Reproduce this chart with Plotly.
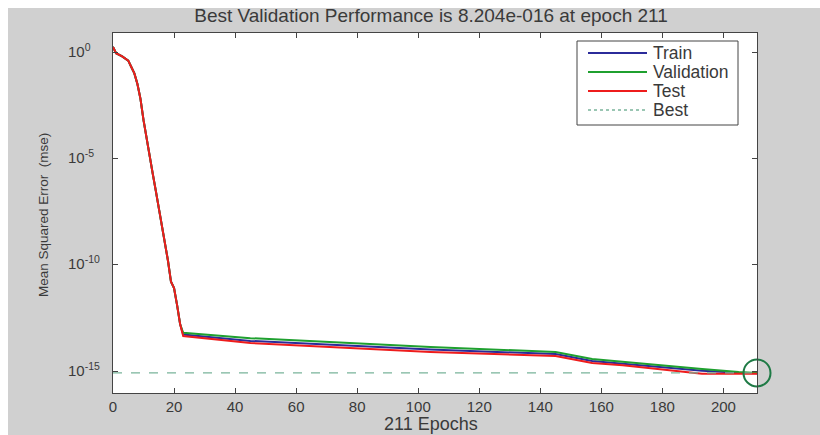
import math
import plotly.graph_objects as go

# ---- data ----
steep_epochs = [0, 1, 3, 5, 6, 7, 8, 9, 10, 11, 12, 13, 14, 15, 16, 17, 18, 19, 20, 21, 22]
steep_log = [0.25, -0.05, -0.2, -0.4, -0.7, -1.0, -1.5, -2.2, -3.2, -4.1, -4.9, -5.7, -6.5,
             -7.3, -8.1, -8.9, -9.8, -10.8, -11.1, -11.9, -12.8]

flat_epochs = [23, 45, 104, 145, 157, 167, 193, 205, 211]
train_log_flat = [-13.28, -13.58, -13.98, -14.20, -14.52, -14.64, -14.98, -15.08, -15.10]
val_log_flat = [-13.20, -13.45, -13.87, -14.10, -14.43, -14.57, -14.90, -15.04, -15.086]
test_log_flat = [-13.35, -13.68, -14.10, -14.29, -14.62, -14.72, -15.12, -15.12, -15.12]

best_epoch = 211
best_value = 8.204e-16
x_ticks = [0, 20, 40, 60, 80, 100, 120, 140, 160, 180, 200]
y_ticks = [1e0, 1e-5, 1e-10, 1e-15]
y_tick_text = ["10<sup>0</sup>", "10<sup>-5</sup>", "10<sup>-10</sup>", "10<sup>-15</sup>"]
legend_names = ["Train", "Validation", "Test", "Best"]

epochs = steep_epochs + flat_epochs
train = [10 ** v for v in steep_log + train_log_flat]
val = [10 ** v for v in steep_log + val_log_flat]
test = [10 ** v for v in steep_log + test_log_flat]

FONT = "Liberation Sans, Arial, sans-serif"
TXT = "#3a3a3a"
C_TRAIN, C_VAL, C_TEST, C_BEST = "#2b2b9a", "#1fa02f", "#ee1c1c", "#79b49a"

W, H = 820, 435
L, R, T, B = 113, 63, 33, 42
pw, ph = W - L - R, H - T - B


def px(xp):
    return (xp - L) / pw


def py(yp):
    return (T + ph - yp) / ph


fig = go.Figure()
fig.add_trace(go.Scatter(x=epochs, y=train, mode="lines", name=legend_names[0],
                         line=dict(color=C_TRAIN, width=2)))
fig.add_trace(go.Scatter(x=epochs, y=val, mode="lines", name=legend_names[1],
                         line=dict(color=C_VAL, width=2)))
fig.add_trace(go.Scatter(x=epochs, y=test, mode="lines", name=legend_names[2],
                         line=dict(color=C_TEST, width=2)))
fig.add_trace(go.Scatter(x=[0, best_epoch], y=[best_value, best_value], mode="lines",
                         name=legend_names[3],
                         line=dict(color=C_BEST, width=1.2, dash="dash")))
fig.add_trace(go.Scatter(x=[best_epoch], y=[best_value], mode="markers",
                         marker=dict(symbol="circle-open", size=27, color="#1e7a45",
                                     line=dict(width=2, color="#1e7a45")),
                         cliponaxis=False))

# custom legend (box, line samples, labels) placed like the reference
shapes = [
    dict(type="rect", xref="paper", yref="paper", layer="below", line=dict(width=0),
         fillcolor="#ffffff", x0=px(0), x1=px(8), y0=py(H), y1=py(0)),
    dict(type="rect", xref="paper", yref="paper", layer="below", line=dict(width=0),
         fillcolor="#ffffff", x0=px(0), x1=px(W), y0=py(8), y1=py(0)),
    dict(type="rect", xref="paper", yref="paper", layer="above",
         line=dict(width=1, color="#444444"), fillcolor="#ffffff",
         x0=px(577), x1=px(738), y0=py(125), y1=py(41)),
]
annotations = []
legend_colors = [C_TRAIN, C_VAL, C_TEST, C_BEST]
legend_dash = ["solid", "solid", "solid", "dot"]
for i, name in enumerate(legend_names):
    yy = 53 + 19 * i
    shapes.append(dict(type="line", xref="paper", yref="paper", layer="above",
                       x0=px(588), x1=px(647), y0=py(yy), y1=py(yy),
                       line=dict(color=legend_colors[i], width=2 if i < 3 else 1.5,
                                 dash=legend_dash[i])))
    annotations.append(dict(text=name, xref="paper", yref="paper", x=px(651), y=py(yy),
                            xanchor="left", yanchor="middle", showarrow=False,
                            font=dict(size=17.5, family=FONT, color=TXT)))

# y tick labels (left-aligned like MATLAB's TeX labels)
for v, t in zip(y_ticks, y_tick_text):
    annotations.append(dict(text=t, xref="paper", yref="y", x=px(66), y=math.log10(v),
                            xanchor="left", yanchor="middle", yshift=2, showarrow=False,
                            font=dict(size=15, family=FONT, color=TXT)))

annotations += [
    dict(text="211 Epochs", xref="paper", yref="paper", x=px(431), y=py(424),
         xanchor="center", yanchor="middle", showarrow=False,
         font=dict(size=18, family=FONT, color=TXT)),
    dict(text="Mean Squared Error  (mse)", xref="paper", yref="paper", x=px(43),
         y=py(215), xanchor="center", yanchor="middle", textangle=-90,
         showarrow=False, font=dict(size=13.5, family=FONT, color=TXT)),
]

fig.update_layout(
    width=W, height=H,
    margin=dict(l=L, r=R, t=T, b=B),
    paper_bgcolor="#d0d0d0",
    plot_bgcolor="#ffffff",
    font=dict(family=FONT, color=TXT, size=15),
    title=dict(text="Best Validation Performance is 8.204e-016 at epoch 211",
               x=431 / W, xanchor="center", y=1 - 15 / H, yanchor="middle",
               font=dict(size=19, family=FONT, color=TXT)),
    showlegend=False,
    xaxis=dict(range=[0, 211], tickvals=x_ticks, ticks="inside", ticklen=5,
               showline=True, linecolor="#444444", linewidth=1, mirror="allticks",
               tickcolor="#444444", showgrid=False, zeroline=False,
               tickfont=dict(size=15, family=FONT, color=TXT)),
    yaxis=dict(type="log", range=[-16.03, 0.9], tickvals=y_ticks, showticklabels=False,
               ticks="inside", ticklen=5, showline=True, linecolor="#444444", linewidth=1,
               mirror="allticks", tickcolor="#444444", showgrid=False, zeroline=False),
    annotations=annotations,
    shapes=shapes,
)

fig.write_html("out.html")
